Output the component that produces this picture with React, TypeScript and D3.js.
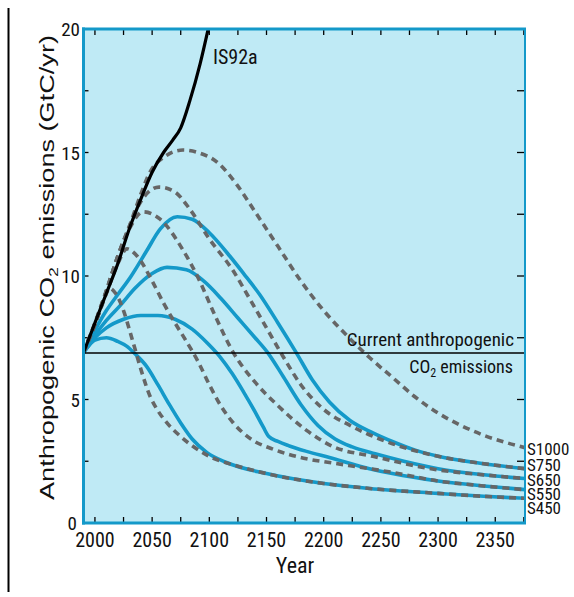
import React from 'react';
import * as d3 from 'd3';

type Pt = [number, number];

// Emission pathways (year, GtC/yr)
const IS92a: Pt[] = [
  [1990, 6.9], [2000, 8.1], [2010, 9.3], [2020, 10.5], [2030, 11.9], [2040, 13.1],
  [2050, 14.2], [2060, 15.0], [2068, 15.5], [2075, 16.0], [2083, 17.1], [2092, 18.6], [2099, 20.0],
];

const WRE450: Pt[] = [
  [1990, 6.9], [1995, 7.2], [2000, 7.4], [2010, 7.5], [2020, 7.35], [2028, 7.15], [2035, 6.85],
  [2045, 6.35], [2055, 5.6], [2065, 4.8], [2075, 4.05], [2085, 3.4], [2098, 2.85], [2115, 2.45],
  [2150, 2.0], [2200, 1.6], [2240, 1.4], [2300, 1.2], [2340, 1.08], [2376, 1.0],
];

const WRE550: Pt[] = [
  [1990, 6.9], [2000, 7.5], [2010, 7.9], [2025, 8.25], [2040, 8.4], [2055, 8.4], [2070, 8.25],
  [2085, 7.85], [2098, 7.3], [2109, 6.75], [2120, 6.05], [2130, 5.3], [2140, 4.5], [2147, 3.9],
  [2152, 3.5], [2160, 3.3], [2170, 3.12], [2185, 2.9], [2205, 2.65], [2240, 2.2], [2260, 2.0],
  [2300, 1.7], [2340, 1.5], [2376, 1.35],
];

const WRE650: Pt[] = [
  [1990, 6.9], [2000, 7.6], [2010, 8.2], [2022, 8.8], [2035, 9.5], [2050, 10.1], [2063, 10.35],
  [2080, 10.25], [2095, 9.8], [2110, 9.1], [2125, 8.3], [2140, 7.5], [2151, 6.9], [2165, 5.9],
  [2180, 4.8], [2195, 3.95], [2210, 3.4], [2225, 3.08], [2245, 2.8], [2270, 2.5], [2300, 2.2],
  [2340, 1.95], [2376, 1.8],
];

const WRE750: Pt[] = [
  [1990, 6.9], [2000, 7.8], [2010, 8.6], [2020, 9.25], [2031, 9.95], [2045, 11.0], [2057, 11.9],
  [2072, 12.4], [2085, 12.3], [2100, 11.75], [2118, 10.8], [2130, 10.1], [2144, 9.25], [2160, 8.1],
  [2176, 6.9], [2190, 5.8], [2205, 4.9], [2223, 4.15], [2243, 3.65], [2260, 3.3], [2280, 2.95],
  [2300, 2.7], [2340, 2.4], [2376, 2.2],
];

const S450: Pt[] = [
  [1990, 6.9], [2000, 8.1], [2008, 9.1], [2013, 9.5], [2018, 9.3], [2025, 8.6], [2030, 7.85],
  [2035, 7.05], [2040, 6.25], [2048, 5.15], [2055, 4.55], [2063, 4.05], [2075, 3.5], [2100, 2.7],
  [2125, 2.3], [2150, 2.0], [2200, 1.6], [2240, 1.4], [2300, 1.2], [2340, 1.08], [2376, 1.0],
];

const S550: Pt[] = [
  [1990, 6.9], [2000, 8.05], [2010, 9.3], [2020, 10.5], [2028, 11.1], [2037, 10.8], [2050, 9.8],
  [2060, 8.9], [2070, 8.1], [2080, 7.35], [2090, 6.55], [2100, 5.6], [2110, 4.75], [2121, 4.05],
  [2138, 3.35], [2155, 3.0], [2185, 2.6], [2205, 2.45], [2240, 2.2], [2260, 2.05], [2300, 1.7],
  [2340, 1.5], [2376, 1.35],
];

const S650: Pt[] = [
  [1990, 6.9], [2000, 8.05], [2010, 9.4], [2020, 10.8], [2030, 11.9], [2042, 12.6], [2057, 12.3],
  [2077, 11.05], [2090, 9.95], [2105, 8.4], [2121, 6.9], [2140, 5.7], [2160, 4.75], [2185, 3.75],
  [2208, 3.1], [2243, 2.7], [2300, 2.15], [2340, 1.95], [2376, 1.8],
];

const S750: Pt[] = [
  [1990, 6.9], [2000, 8.05], [2010, 9.4], [2020, 10.8], [2030, 12.0], [2040, 13.0], [2056, 13.6],
  [2070, 13.4], [2083, 12.7], [2100, 11.5], [2121, 10.2], [2135, 9.1], [2150, 7.9], [2165, 6.7],
  [2180, 5.6], [2200, 4.6], [2223, 3.95], [2249, 3.4], [2300, 2.7], [2340, 2.4], [2376, 2.2],
];

const S1000: Pt[] = [
  [1990, 6.9], [2000, 8.05], [2010, 9.4], [2020, 10.8], [2030, 12.0], [2040, 13.3], [2048, 14.2],
  [2060, 14.8], [2077, 15.1], [2090, 15.0], [2107, 14.6], [2124, 13.7], [2140, 12.6], [2160, 11.2],
  [2180, 9.8], [2200, 8.6], [2220, 7.6], [2240, 6.7], [2260, 5.9], [2280, 5.1], [2300, 4.45],
  [2320, 3.95], [2340, 3.55], [2360, 3.25], [2376, 3.05],
];

const currentEmissions = 6.88;

const xTickLabels = [2000, 2050, 2100, 2150, 2200, 2250, 2300, 2350];
const xMinorTicks = d3.range(2000, 2376, 25);
const yTickLabels = [0, 5, 10, 15, 20];
const yMinorTicks = d3.range(0, 20.01, 2.5);

const seriesLabels = ['S1000', 'S750', 'S650', 'S550', 'S450'];
const seriesLabelBaselines = [455, 471, 486, 500, 514];

const W = 574;
const H = 597;
const left = 83.5;
const right = 525;
const top = 29;
const bottom = 523;

const NARROW = "'Liberation Sans Narrow', 'Arial Narrow', 'Roboto Condensed', sans-serif";
const SANS = "'Liberation Sans', Arial, sans-serif";

export default function App() {
  const x = d3.scaleLinear().domain([1990, 2376]).range([left, right]);
  const y = d3.scaleLinear().domain([0, 20]).range([bottom, top]);
  const line = d3
    .line<Pt>()
    .x((d) => x(d[0]))
    .y((d) => y(d[1]))
    .curve(d3.curveMonotoneX);

  const blue = '#1499c9';
  const grey = '#666666';

  const wre = [WRE450, WRE550, WRE650, WRE750];
  const sSeries = [S450, S550, S650, S750, S1000];

  return (
    <svg
      width={W}
      height={H}
      viewBox={`0 0 ${W} ${H}`}
      style={{ position: 'absolute', left: 0, top: 0, background: '#ffffff' }}
    >
      <defs>
        <clipPath id="plotclip">
          <rect x={left} y={top} width={right - left} height={bottom - top} />
        </clipPath>
      </defs>
      {/* page rule */}
      <line x1={8.5} y1={8} x2={8.5} y2={592} stroke="#000" strokeWidth={2} />

      {/* plot background */}
      <rect x={left} y={top} width={right - left} height={bottom - top} fill="#bfeaf5" />

      {/* ticks */}
      {xMinorTicks.map((t) => (
        <g key={'xt' + t}>
          <line x1={x(t)} x2={x(t)} y1={bottom} y2={bottom - 6} stroke="#000" strokeWidth={1.3} />
          <line x1={x(t)} x2={x(t)} y1={top} y2={top + 6} stroke="#000" strokeWidth={1.3} />
        </g>
      ))}
      {yMinorTicks.map((t) => (
        <g key={'yt' + t}>
          <line x1={left} x2={left + 5} y1={y(t)} y2={y(t)} stroke="#000" strokeWidth={1.3} />
          <line x1={right - 8} x2={right} y1={y(t)} y2={y(t)} stroke="#000" strokeWidth={1.3} />
        </g>
      ))}

      {/* curves */}
      <g clipPath="url(#plotclip)" fill="none" strokeLinejoin="round">
        {wre.map((s, i) => (
          <path key={'w' + i} d={line(s) || ''} stroke={blue} strokeWidth={3.6} />
        ))}
        {sSeries.map((s, i) => (
          <path
            key={'s' + i}
            d={line(s) || ''}
            stroke={grey}
            strokeWidth={3.6}
            strokeDasharray="7 5"
          />
        ))}
        <path d={line(IS92a) || ''} stroke="#000" strokeWidth={3.2} />
      </g>

      {/* current emissions line */}
      <line
        x1={left}
        x2={right}
        y1={y(currentEmissions)}
        y2={y(currentEmissions)}
        stroke="#000"
        strokeWidth={1.4}
      />

      {/* frame */}
      <line x1={left} x2={left} y1={top - 1.5} y2={bottom + 1.5} stroke={blue} strokeWidth={3} />
      <line x1={left - 1.5} x2={right + 1} y1={bottom} y2={bottom} stroke={blue} strokeWidth={3} />
      <line x1={left - 1.5} x2={right + 1} y1={top} y2={top} stroke={blue} strokeWidth={3} />
      <line x1={right} x2={right} y1={top} y2={bottom} stroke={blue} strokeWidth={2} />

      {/* y tick labels */}
      {yTickLabels.map((t) => (
        <text
          key={'yl' + t}
          x={t === 0 ? 77 : 80}
          y={t === 0 ? 530 : y(t) + 7}
          textAnchor="end"
          fontFamily={NARROW}
          fontSize={19}
          fill="#111"
        >
          {t}
        </text>
      ))}

      {/* x tick labels */}
      {xTickLabels.map((t) => (
        <text
          key={'xl' + t}
          x={x(t)}
          y={547}
          textAnchor="middle"
          fontFamily={NARROW}
          fontSize={20}
          fill="#111"
        >
          {t}
        </text>
      ))}

      <text x={295} y={573} textAnchor="middle" fontFamily={NARROW} fontSize={22} fill="#111">
        Year
      </text>

      {/* y axis title */}
      <text
        transform={`translate(54, 500) rotate(-90)`}
        fontFamily={SANS}
        fontSize={20}
        fill="#111"
        textLength={465}
        lengthAdjust="spacingAndGlyphs"
      >
        Anthropogenic CO
        <tspan fontSize={13} dy={4}>2</tspan>
        <tspan dy={-4}> emissions (GtC/yr)</tspan>
      </text>

      {/* annotations */}
      <text x={213} y={64} fontFamily={NARROW} fontSize={20} fill="#111">
        IS92a
      </text>
      <text x={514} y={346} textAnchor="end" fontFamily={NARROW} fontSize={19} fill="#111">
        Current anthropogenic
      </text>
      <text x={513} y={373} textAnchor="end" fontFamily={NARROW} fontSize={18} fill="#111">
        CO<tspan fontSize={12} dy={4}>2</tspan>
        <tspan dy={-4}> emissions</tspan>
      </text>

      {/* series labels */}
      {seriesLabels.map((l, i) => (
        <text
          key={l}
          x={527}
          y={seriesLabelBaselines[i]}
          fontFamily={NARROW}
          fontSize={17}
          fill="#111"
        >
          {l}
        </text>
      ))}
    </svg>
  );
}
